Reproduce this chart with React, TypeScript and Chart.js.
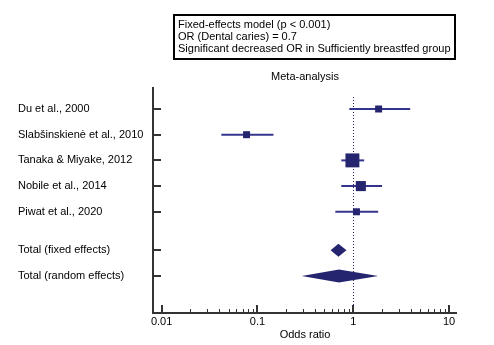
import React, { useEffect, useRef } from "react";
import { Chart, registerables } from "chart.js";

Chart.register(...registerables);

const studies = [
  "Du et al., 2000",
  "Slabšinskienė et al., 2010",
  "Tanaka & Miyake, 2012",
  "Nobile et al., 2014",
  "Piwat et al., 2020",
];
const oddsRatios = [1.84, 0.077, 0.98, 1.2, 1.08];
const ciLower = [0.91, 0.042, 0.75, 0.75, 0.65];
const ciUpper = [3.93, 0.147, 1.3, 2.0, 1.82];
const weights = [8, 6, 44, 23, 11];

const totals = ["Total (fixed effects)", "Total (random effects)"];
const totalOR = [0.7, 0.71];
const totalLower = [0.58, 0.29];
const totalUpper = [0.85, 1.82];

const rowPositions = [0, 1, 2, 3, 4, 5.5, 6.5];
const xTicks = [0.01, 0.1, 1, 10];
const xTickLabels = ["0.01", "0.1", "1", "10"];
const xTitle = "Odds ratio";
const chartTitle = "Meta-analysis";
const legendLines = [
  "Fixed-effects model (p < 0.001)",
  "OR (Dental caries) = 0.7",
  "Significant decreased OR in Sufficiently breastfed group",
];

const NAVY = "#25246f";
const LINE = "#35358e";
const AXIS = "#333333";
const FONT = "11px 'Liberation Sans', Arial, sans-serif";

const forestPlugin = {
  id: "forest",
  beforeDraw(chart: any) {
    const ctx = chart.ctx;
    ctx.save();
    ctx.fillStyle = "#ffffff";
    ctx.fillRect(0, 0, chart.width, chart.height);
    ctx.restore();
  },
  beforeDatasetsDraw(chart: any) {
    const ctx = chart.ctx;
    const xs = chart.scales.x;
    const area = chart.chartArea;
    const x1 = Math.round(xs.getPixelForValue(1)) + 0.5;
    ctx.save();
    ctx.strokeStyle = NAVY;
    ctx.lineWidth = 1;
    ctx.setLineDash([1, 2]);
    ctx.beginPath();
    ctx.moveTo(x1, area.top + 10);
    ctx.lineTo(x1, area.bottom);
    ctx.stroke();
    ctx.restore();
  },
  afterDatasetsDraw(chart: any) {
    const ctx = chart.ctx;
    const xs = chart.scales.x;
    const ys = chart.scales.y;
    const area = chart.chartArea;
    ctx.save();

    // diamonds for pooled estimates
    ctx.fillStyle = NAVY;
    totals.forEach((_, i) => {
      const y = ys.getPixelForValue(rowPositions[studies.length + i]);
      const xl = xs.getPixelForValue(totalLower[i]);
      const xc = xs.getPixelForValue(totalOR[i]);
      const xu = xs.getPixelForValue(totalUpper[i]);
      ctx.beginPath();
      ctx.moveTo(xl, y);
      ctx.lineTo(xc, y - 6.5);
      ctx.lineTo(xu, y);
      ctx.lineTo(xc, y + 6.5);
      ctx.closePath();
      ctx.fill();
    });

    // axes
    ctx.strokeStyle = AXIS;
    ctx.lineWidth = 2;
    ctx.setLineDash([]);
    ctx.beginPath();
    ctx.moveTo(area.left, area.top);
    ctx.lineTo(area.left, area.bottom + 1);
    ctx.lineTo(area.right, area.bottom + 1);
    ctx.stroke();

    // y ticks
    const labels = [...studies, ...totals];
    labels.forEach((_, i) => {
      const y = Math.round(ys.getPixelForValue(rowPositions[i]));
      ctx.beginPath();
      ctx.moveTo(area.left, y);
      ctx.lineTo(area.left + 8, y);
      ctx.stroke();
    });

    // x ticks (major + minor)
    xTicks.forEach((t) => {
      const x = Math.round(xs.getPixelForValue(t));
      ctx.beginPath();
      ctx.moveTo(x, area.bottom + 1);
      ctx.lineTo(x, area.bottom - 7);
      ctx.stroke();
    });
    ctx.lineWidth = 1;
    xTicks.slice(0, -1).forEach((t) => {
      for (let k = 2; k <= 9; k++) {
        const x = Math.round(xs.getPixelForValue(t * k)) + 0.5;
        ctx.beginPath();
        ctx.moveTo(x, area.bottom + 1);
        ctx.lineTo(x, area.bottom - 3);
        ctx.stroke();
      }
    });

    // texts
    ctx.fillStyle = "#000000";
    ctx.font = FONT;
    ctx.textBaseline = "middle";
    ctx.textAlign = "left";
    labels.forEach((lab, i) => {
      ctx.fillText(lab, 18, ys.getPixelForValue(rowPositions[i]));
    });
    ctx.textAlign = "center";
    xTicks.forEach((t, i) => {
      ctx.fillText(xTickLabels[i], xs.getPixelForValue(t), area.bottom + 10);
    });
    const cx = (area.left + area.right) / 2;
    ctx.fillText(xTitle, cx, area.bottom + 23);
    ctx.fillText(chartTitle, cx, area.top - 10);

    // info box
    ctx.strokeStyle = "#000000";
    ctx.lineWidth = 2;
    ctx.strokeRect(174, 15, 281, 44);
    ctx.textAlign = "left";
    legendLines.forEach((line, i) => {
      ctx.fillText(line, 178, 25 + i * 12);
    });
    ctx.restore();
  },
};

export default function App() {
  const ref = useRef<HTMLCanvasElement | null>(null);
  useEffect(() => {
    if (!ref.current) return;
    const sizes = weights.map((w) => Math.max(7, 2.1 * Math.sqrt(w)) / Math.SQRT2);
    const squares = {
      type: "scatter" as const,
      data: studies.map((_, i) => ({ x: oddsRatios[i], y: rowPositions[i] })),
      pointStyle: "rect",
      pointRadius: sizes,
      pointBackgroundColor: NAVY,
      pointBorderWidth: 0,
      borderWidth: 0,
      showLine: false,
    };
    const ciLines = studies.map((_, i) => ({
      type: "line" as const,
      data: [
        { x: ciLower[i], y: rowPositions[i] },
        { x: ciUpper[i], y: rowPositions[i] },
      ],
      borderColor: LINE,
      borderWidth: 2,
      pointRadius: 0,
      fill: false,
    }));
    const chart = new Chart(ref.current, {
      type: "scatter",
      data: { datasets: [squares as any, ...(ciLines as any)] },
      options: {
        animation: false,
        responsive: false,
        devicePixelRatio: 1,
        events: [],
        layout: { padding: { left: 153, top: 87, right: 37, bottom: 33 } },
        plugins: { legend: { display: false }, tooltip: { enabled: false } },
        scales: {
          x: { type: "logarithmic", min: 0.00813, max: 12.1, display: false },
          y: { type: "linear", min: -0.856, max: 7.9, reverse: true, display: false },
        },
      },
      plugins: [forestPlugin],
    });
    return () => chart.destroy();
  }, []);
  return (
    <div style={{ position: "absolute", left: 0, top: 0, width: 494, height: 345 }}>
      <canvas ref={ref} width={494} height={345} />
    </div>
  );
}
